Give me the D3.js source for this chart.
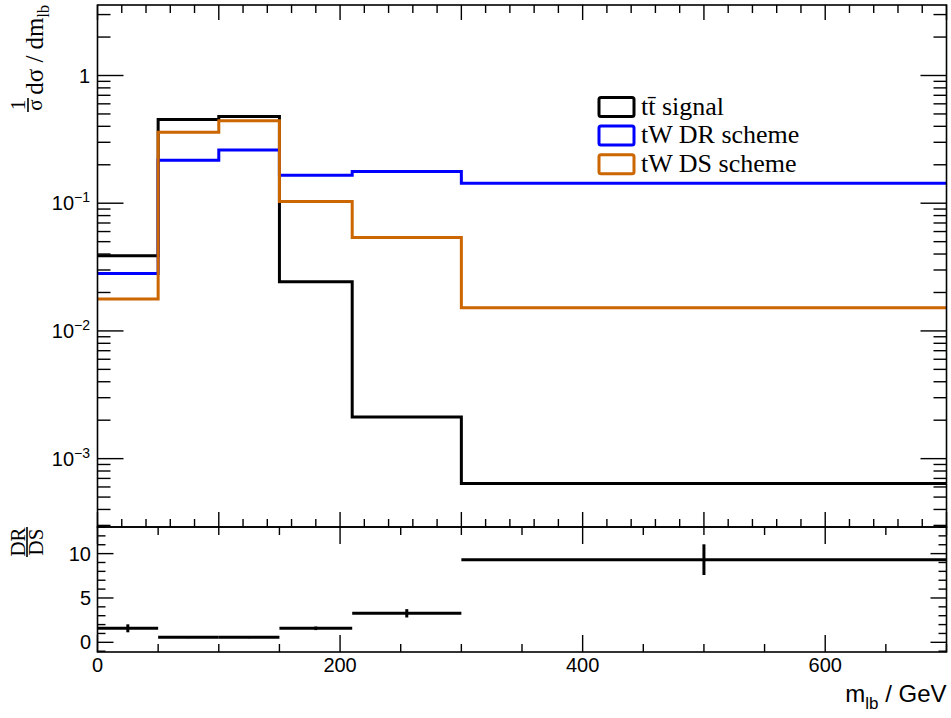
<!DOCTYPE html>
<html>
<head>
<meta charset="utf-8">
<script src="https://cdn.jsdelivr.net/npm/d3@7"></script>
<style>
  html, body { margin: 0; padding: 0; background: #fff; }
  svg { display: block; }
  .tick-label { font-family: "Liberation Sans", Arial, sans-serif; font-size: 20px; fill: #000; }
  .serif { font-family: "Liberation Serif", "Times New Roman", serif; fill: #000; }
</style>
</head>
<body>
<svg id="chart" width="951" height="718"></svg>
<script>
// m_lb distribution: bin edges in GeV
const binEdges = [0, 50, 100, 150, 210, 300, 700];
// normalised differential cross sections per bin
const ttSignal = [0.0387, 0.453, 0.478, 0.0243, 0.00212, 0.000638];
const tWDR     = [0.0282, 0.217, 0.261, 0.1655, 0.177, 0.143];
const tWDS     = [0.0178, 0.360, 0.443, 0.103, 0.054, 0.0152];
// DR / DS ratio with its uncertainty
const ratioVals = [1.58, 0.57, 0.57, 1.58, 3.27, 9.32];
const ratioErr  = [0.45, 0.10, 0.10, 0.20, 0.47, 1.73];
// axis labels
const xTickLabels = [0, 200, 400, 600];
const yLogLabels = [1, 0.1, 0.01, 0.001];
const ratioTickLabels = [0, 5, 10];
const legendNames = ["signal", "tW DR scheme", "tW DS scheme"];

const svg = d3.select("#chart");

const L = 97.5, R = 946.5;
const mainTop = 5, mainBot = 527, ratBot = 652;

const x = d3.scaleLinear().domain([0, 700]).range([L, R]);
const y = d3.scaleLog().domain([2.915e-4, 3.565]).range([mainBot, mainTop]);
const yr = d3.scaleLinear().domain([-1.09, 13.0]).range([ratBot, mainBot]);

const series = [
  { vals: ttSignal, color: "#000000" },
  { vals: tWDR, color: "#0000ff" },
  { vals: tWDS, color: "#cc6600" }
];

// ---- histogram step lines
const step = d3.line().x(d => x(d[0])).y(d => y(d[1])).curve(d3.curveStepAfter);
series.forEach(s => {
  const pts = s.vals.map((v, i) => [binEdges[i], v]);
  pts.push([binEdges[binEdges.length - 1], s.vals[s.vals.length - 1]]);
  svg.append("path")
    .attr("d", step(pts))
    .attr("fill", "none")
    .attr("stroke", s.color)
    .attr("stroke-width", 3);
});

// ---- ratio points: bin-wide horizontal bars with vertical errors
const rg = svg.append("g").attr("stroke", "#000").attr("stroke-width", 3);
ratioVals.forEach((v, i) => {
  const x0 = binEdges[i], x1 = binEdges[i + 1], xc = (x0 + x1) / 2;
  rg.append("line")
    .attr("x1", x(x0)).attr("x2", x(x1))
    .attr("y1", yr(v)).attr("y2", yr(v));
  rg.append("line")
    .attr("x1", x(xc)).attr("x2", x(xc))
    .attr("y1", yr(v - ratioErr[i])).attr("y2", yr(v + ratioErr[i]));
});

// ---- frames
const frame = svg.append("g").attr("fill", "none").attr("stroke", "#000").attr("stroke-width", 1.6);
frame.append("rect").attr("x", L).attr("y", mainTop).attr("width", R - L).attr("height", mainBot - mainTop);
frame.append("rect").attr("x", L).attr("y", mainBot).attr("width", R - L).attr("height", ratBot - mainBot);

const ticks = svg.append("g").attr("stroke", "#000").attr("stroke-width", 1.4);
function vtick(px, yEdge, len) { ticks.append("line").attr("x1", px).attr("x2", px).attr("y1", yEdge).attr("y2", yEdge + len); }
function htick(py, xEdge, len) { ticks.append("line").attr("x1", xEdge).attr("x2", xEdge + len).attr("y1", py).attr("y2", py); }

// main panel x ticks (top and bottom)
d3.range(0, 701, 20).forEach(v => {
  const major = v % 100 === 0;
  const len = major ? 15 : 8;
  vtick(x(v), mainTop, len);
  vtick(x(v), mainBot, -len);
});

// main panel log y ticks (left and right)
for (let d = -4; d <= 0; d++) {
  for (let m = 1; m <= 9; m++) {
    const v = m * Math.pow(10, d);
    if (v < y.domain()[0] || v > y.domain()[1]) continue;
    const len = m === 1 ? 26 : 13;
    htick(y(v), L, len);
    htick(y(v), R, -len);
  }
}

// ratio panel x ticks
d3.range(0, 701, 50).forEach(v => {
  const major = v % 200 === 0;
  const len = major ? 17 : 8;
  vtick(x(v), mainBot, len);
  vtick(x(v), ratBot, -len);
});

// ratio panel y ticks
d3.range(-1, 14, 1).forEach(v => {
  if (v < yr.domain()[0] || v > yr.domain()[1]) return;
  const len = v % 5 === 0 ? 16 : 8;
  htick(yr(v), L, len);
  htick(yr(v), R, -len);
});

// ---- tick labels
xTickLabels.forEach(v => {
  svg.append("text").attr("class", "tick-label")
    .attr("x", x(v)).attr("y", 672).attr("text-anchor", "middle").text(v);
});
ratioTickLabels.forEach(v => {
  svg.append("text").attr("class", "tick-label")
    .attr("x", 91).attr("y", yr(v) + 7).attr("text-anchor", "end").text(v);
});
yLogLabels.forEach(v => {
  const e = Math.round(Math.log10(v));
  const t = svg.append("text").attr("class", "tick-label")
    .attr("x", 90).attr("y", y(v) + 7).attr("text-anchor", "end");
  if (e === 0) {
    t.text("1");
  } else {
    t.append("tspan").text("10");
    t.append("tspan").attr("font-size", 14).attr("dy", -8).text("\u2212" + Math.abs(e));
  }
});

// ---- axis titles
const xt = svg.append("text").attr("class", "tick-label").style("font-size", "24px")
  .attr("x", R).attr("y", 702).attr("text-anchor", "end");
xt.append("tspan").text("m");
xt.append("tspan").attr("font-size", 17).attr("dy", 7).text("lb");
xt.append("tspan").attr("dy", -7).text(" / GeV");

// main y title: 1/σ dσ / dm_lb (rotated)
const yt = svg.append("g").attr("transform", "translate(43,5) rotate(-90)");
const ytMain = yt.append("text").attr("class", "serif").attr("font-size", 25)
  .attr("x", 0).attr("y", 0).attr("text-anchor", "end");
ytMain.append("tspan").text("d\u03c3 / dm");
ytMain.append("tspan").attr("font-size", 16).attr("dy", 6).text("lb");
// fraction 1/σ
const fx = -100;
yt.append("text").attr("class", "serif").attr("font-size", 21)
  .attr("x", fx).attr("y", -18).attr("text-anchor", "middle").text("1");
yt.append("line").attr("x1", fx - 7).attr("x2", fx + 7).attr("y1", -15).attr("y2", -15)
  .attr("stroke", "#000").attr("stroke-width", 1.6);
yt.append("text").attr("class", "serif").attr("font-size", 21)
  .attr("x", fx).attr("y", -1).attr("text-anchor", "middle").text("\u03c3");

// ratio y title: DR/DS (rotated)
const rt = svg.append("g").attr("transform", "translate(27,542) rotate(-90)");
rt.append("text").attr("class", "serif").attr("font-size", 21)
  .attr("x", 0).attr("y", -2).attr("text-anchor", "middle").text("DR");
rt.append("line").attr("x1", -15).attr("x2", 15).attr("y1", 0).attr("y2", 0)
  .attr("stroke", "#000").attr("stroke-width", 1.6);
rt.append("text").attr("class", "serif").attr("font-size", 21)
  .attr("x", 0).attr("y", 16).attr("text-anchor", "middle").text("DS");

// ---- legend
const lg = svg.append("g");
series.forEach((s, i) => {
  const cy = 107 + i * 28.6;
  lg.append("rect").attr("x", 599).attr("y", cy - 9.5).attr("width", 35).attr("height", 19)
    .attr("rx", 2).attr("fill", "none").attr("stroke", s.color).attr("stroke-width", 3);
  const t = lg.append("text").attr("class", "serif").attr("font-size", 26)
    .attr("x", 641).attr("y", cy + 7.5);
  if (i === 0) {
    t.append("tspan").text("t");
    t.append("tspan").text("t\u0304");
    t.append("tspan").text(" " + legendNames[0]);
  } else {
    t.text(legendNames[i]);
  }
});
</script>
</body>
</html>
